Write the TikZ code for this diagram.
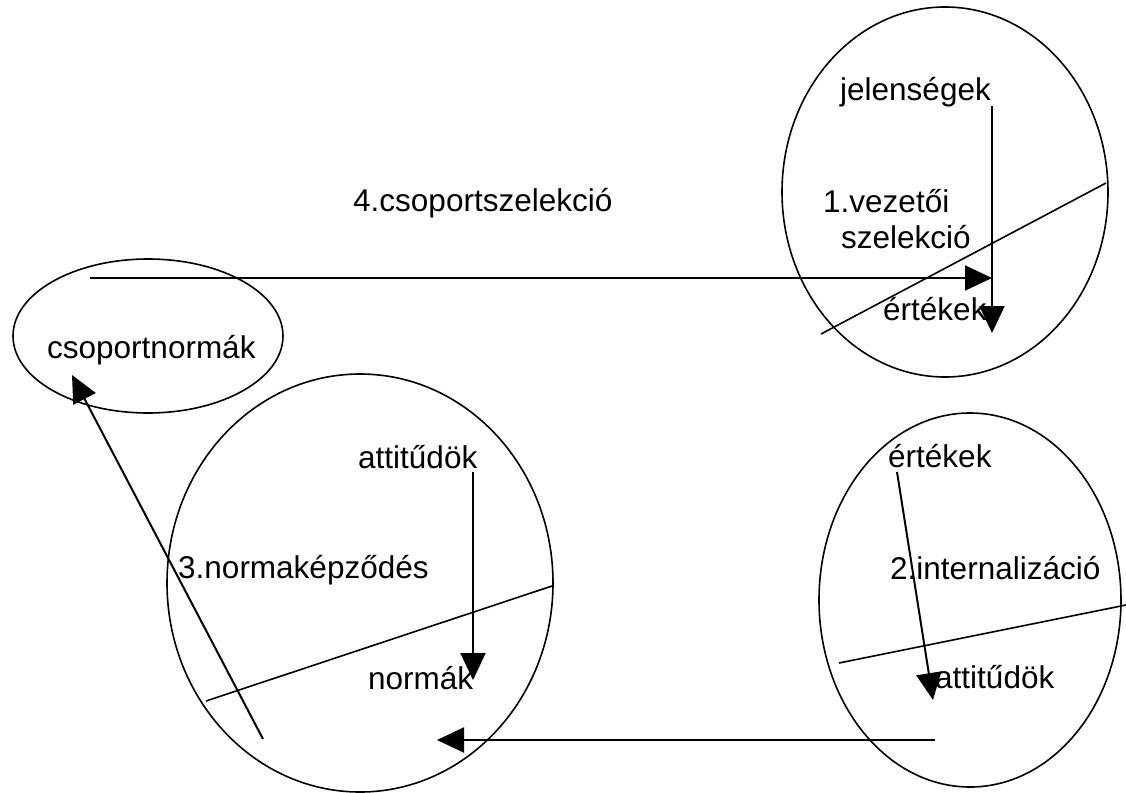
\documentclass[tikz,border=0pt]{standalone}
\usepackage{fontspec}
\setmainfont{Liberation Sans}
\usetikzlibrary{arrows.meta}

\tikzset{
  label/.style={anchor=base west,inner sep=0pt,font=\fontsize{31.5}{36}\selectfont},
  rim/.style={line width=1.6pt},
  flow/.style={line width=2pt,-{Triangle[length=27pt,width=25pt]}}
}

\begin{document}
\begin{tikzpicture}[x=1pt,y=-1pt]
\useasboundingbox (0,0) rectangle (1126,792);

% ellipses
\draw[rim] (945,192) ellipse [x radius=163pt,y radius=185pt];
\draw[rim] (148,336) ellipse [x radius=135pt,y radius=77pt];
\draw[rim] (360,583) ellipse [x radius=193pt,y radius=209pt];
\draw[rim] (970,600) ellipse [x radius=151pt,y radius=187pt];

% texts
\node[label] (jel) at (840,100) {jelenségek};
\node[label] (vez) at (823,212) {1.vezetői};
\node[label] (sze) at (841,248) {szelekció};
\node[label] (ert1) at (883,320) {értékek};
\node[label] (csel) at (353,211) {4.csoportszelekció};
\node[label] (cnorm) at (47,358) {csoportnormák};
\node[label] (att1) at (358,468) {attitűdök};
\node[label] (nkep) at (178,578) {3.normaképződés};
\node[label] (norm) at (368,689) {normák};
\node[label] (ert2) at (888,467) {értékek};
\node[label] (int) at (890,579) {2.internalizáció};
\node[label] (att2) at (935,688) {attitűdök};

% end points
\coordinate (jelE) at (992,106);
\coordinate (ertE) at (992,333);
\coordinate (cnS) at (90,278);
\coordinate (cnE) at (992,278);
\coordinate (attE) at (473,472);
\coordinate (normE) at (473,680);
\coordinate (nkS) at (263,739);
\coordinate (cnT) at (72,375);
\coordinate (ert2S) at (897,472);
\coordinate (att2T) at (933,700);
\coordinate (intS) at (935,740);
\coordinate (normT) at (437,740);

% dividing lines
\draw[rim] (821,334) -- (1106,183);
\draw[rim] (206,701) -- (552,586);
\draw[rim] (839,663) -- (1126,605);

% arrows
\draw[flow] (jelE) -- (ertE);
\draw[flow] (cnS) -- (cnE);
\draw[flow] (attE) -- (normE);
\draw[flow] (nkS) -- (cnT);
\draw[flow] (ert2S) -- (att2T);
\draw[flow] (intS) -- (normT);

\end{tikzpicture}
\end{document}
